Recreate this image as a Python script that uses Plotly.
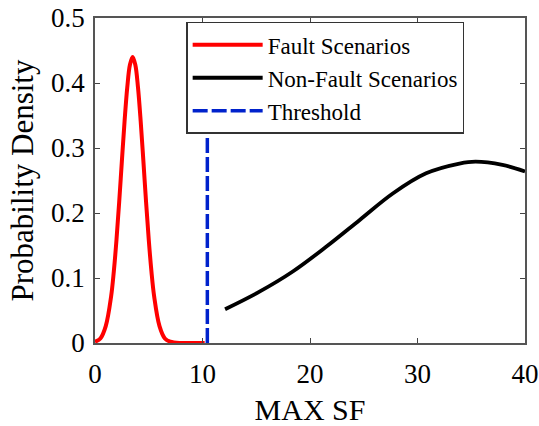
import plotly.graph_objects as go

# Fault scenarios (red)
fault_x = [0, 0.5, 1.0, 1.5, 1.75, 2.0, 2.25, 2.5, 2.75, 3.0, 3.25, 3.5, 3.75, 4.0,
           4.25, 4.5, 4.75, 5.0, 5.25, 5.5, 6.0, 6.5, 7.0, 8.0, 9.0, 10.2]
fault_y = [0.002, 0.007, 0.026, 0.072, 0.110, 0.159, 0.217, 0.280, 0.341, 0.393, 0.428, 0.440, 0.428, 0.393,
           0.341, 0.280, 0.217, 0.159, 0.110, 0.072, 0.026, 0.007, 0.002, 0.0, 0.0, 0.0]

# Non-fault scenarios (black)
nonfault_x = [12.1, 15.3, 18.4, 21.5, 24.6, 27.7, 30.8, 33.9, 35.4, 37.9, 40.0]
nonfault_y = [0.052, 0.079, 0.110, 0.148, 0.189, 0.230, 0.261, 0.276, 0.279, 0.274, 0.264]

# Threshold (blue dashed)
threshold_x = [10.45, 10.45]
threshold_y = [0.0, 0.45]

x_ticks = [0, 10, 20, 30, 40]
y_ticks = [0, 0.1, 0.2, 0.3, 0.4, 0.5]
y_tick_labels = ["0", "0.1", "0.2", "0.3", "0.4", "0.5"]

FONT = "Liberation Serif"

fig = go.Figure()
fig.add_trace(go.Scatter(x=fault_x, y=fault_y, mode="lines", name="Fault Scenarios",
                         line=dict(color="#ff0000", width=4, shape="spline")))
fig.add_trace(go.Scatter(x=nonfault_x, y=nonfault_y, mode="lines", name="Non-Fault Scenarios",
                         line=dict(color="#000000", width=3.8, shape="spline")))
fig.add_trace(go.Scatter(x=threshold_x, y=threshold_y, mode="lines", name="Threshold",
                         line=dict(color="#0022cc", width=3.5, dash="15px,4px")))

fig.update_layout(
    width=539, height=426,
    margin=dict(l=95, r=14, t=18, b=83, autoexpand=False),
    paper_bgcolor="white", plot_bgcolor="white",
    font=dict(family=FONT, color="black", size=27),
    showlegend=True,
    legend=dict(x=0.212, y=0.988, xanchor="left", yanchor="top",
                bgcolor="white", bordercolor="#333333", borderwidth=1.5,
                font=dict(family=FONT, size=23, color="black"),
                tracegroupgap=0, itemwidth=70),
)
fig.update_xaxes(range=[0, 40], tickvals=x_ticks, ticks="inside", ticklen=5,
                 showline=True, linecolor="#555555", linewidth=1.5, mirror="allticks",
                 showgrid=False, zeroline=False, automargin=False,
                 ticklabelstandoff=6,
                 tickfont=dict(family=FONT, size=27),
                 title=dict(text="MAX SF", font=dict(family=FONT, size=30), standoff=16))
fig.update_yaxes(range=[0, 0.5], tickvals=y_ticks, ticktext=y_tick_labels, ticks="inside", ticklen=5,
                 showline=True, linecolor="#555555", linewidth=1.5, mirror="allticks",
                 showgrid=False, zeroline=False, automargin=False,
                 ticklabelstandoff=3,
                 tickfont=dict(family=FONT, size=27),
                 title=dict(text="Probability Density", font=dict(family=FONT, size=31), standoff=8))

fig.write_html("out.html", config={"displayModeBar": False},
               post_script="document.body.style.margin='0';")
